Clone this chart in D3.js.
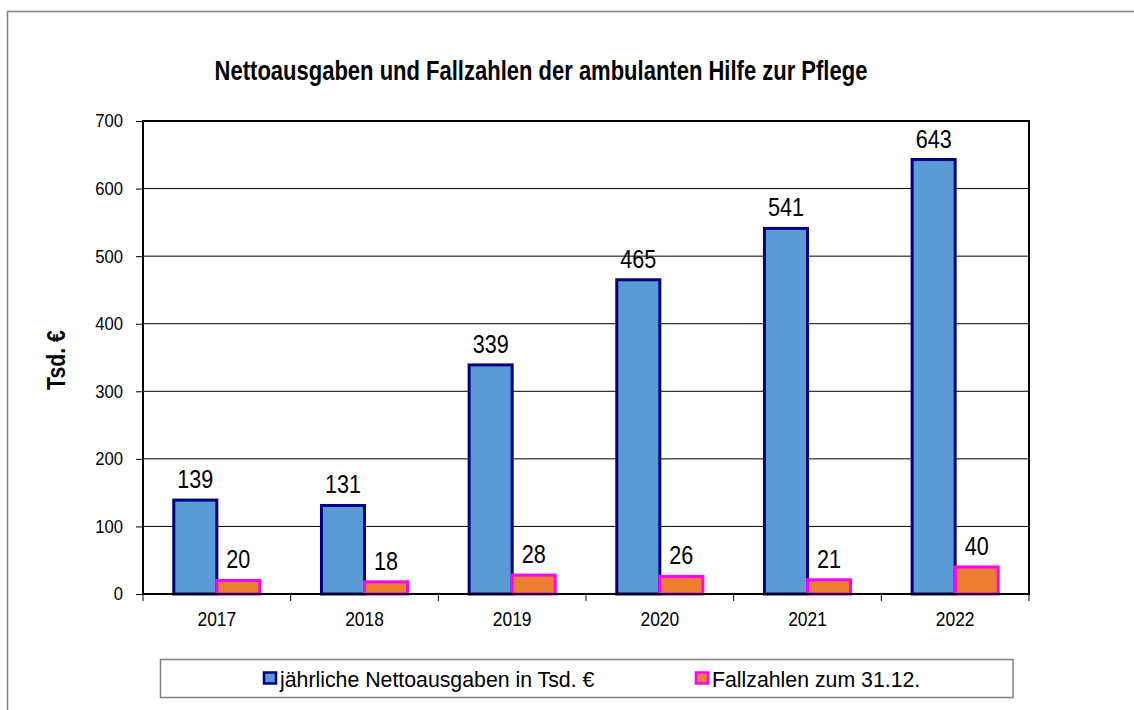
<!DOCTYPE html>
<html>
<head>
<meta charset="utf-8">
<script src="https://cdn.jsdelivr.net/npm/d3@7"></script>
<style>
    body { margin: 0; background: #fff; }
    svg { display: block; }
    text { font-family: "Liberation Sans", Arial, sans-serif; fill: #000; }
</style>
</head>
<body>
<div id="chart"></div>
<script>
// data
const years = ["2017", "2018", "2019", "2020", "2021", "2022"];
const ausgaben = [139, 131, 339, 465, 541, 643];
const fallzahlen = [20, 18, 28, 26, 21, 40];
const seriesNames = ["jährliche Nettoausgaben in Tsd. €", "Fallzahlen zum 31.12."];
const yTicks = [0, 100, 200, 300, 400, 500, 600, 700];

const width = 1134;
const height = 710;
const margin = { top: 121, right: 105, bottom: 116, left: 143 };
const innerWidth = width - margin.left - margin.right;
const innerHeight = height - margin.top - margin.bottom;

const fills = ["#5b9bd5", "#ed7d31"];
const strokes = ["#000080", "#ff00ff"];

// squeeze text horizontally to mimic a narrow font
function narrow(sel, factor) {
    sel.each(function () {
        const w = this.getComputedTextLength();
        d3.select(this)
            .attr("textLength", w * factor)
            .attr("lengthAdjust", "spacingAndGlyphs");
    });
}

const svg = d3.select("#chart").append("svg")
    .attr("width", width)
    .attr("height", height);

// outer frame (only left and top visible)
svg.append("rect")
    .attr("x", 7.5).attr("y", 11.5)
    .attr("width", width + 20).attr("height", height + 20)
    .attr("fill", "none")
    .attr("stroke", "#808080")
    .attr("stroke-width", 1.5);

// title
svg.append("text")
    .attr("x", 541)
    .attr("y", 80)
    .attr("text-anchor", "middle")
    .style("font-size", "27.5px")
    .style("font-weight", "bold")
    .text("Nettoausgaben und Fallzahlen der ambulanten Hilfe zur Pflege")
    .call(narrow, 0.8);

const g = svg.append("g")
    .attr("transform", `translate(${margin.left}, ${margin.top})`);

const x0 = d3.scaleBand()
    .domain(years)
    .range([0, innerWidth]);

const groupW = x0.bandwidth() * 0.583;
const x1 = d3.scaleBand()
    .domain([0, 1])
    .range([(x0.bandwidth() - groupW) / 2, (x0.bandwidth() + groupW) / 2]);

const y = d3.scaleLinear()
    .domain([0, 700])
    .range([innerHeight, 0]);

// gridlines
g.selectAll("line.grid")
    .data(yTicks.slice(1))
    .join("line")
    .attr("class", "grid")
    .attr("x1", 0).attr("x2", innerWidth)
    .attr("y1", d => y(d)).attr("y2", d => y(d))
    .attr("stroke", "#000")
    .attr("stroke-width", 1);

// y axis
const yAxis = g.append("g")
    .call(d3.axisLeft(y).tickValues(yTicks).tickSize(7).tickPadding(13));
yAxis.select(".domain").remove();
yAxis.selectAll("line").attr("stroke", "#000");
yAxis.selectAll("text")
    .attr("fill", "#000")
    .style("font-size", "18.5px")
    .style("font-family", "\"Liberation Sans\", Arial, sans-serif")
    .call(narrow, 0.9);

// x axis ticks at category boundaries
g.selectAll("line.xtick")
    .data(d3.range(years.length + 1))
    .join("line")
    .attr("class", "xtick")
    .attr("x1", d => d * x0.step()).attr("x2", d => d * x0.step())
    .attr("y1", innerHeight).attr("y2", innerHeight + 7)
    .attr("stroke", "#000");

g.selectAll("text.xlabel")
    .data(years)
    .join("text")
    .attr("class", "xlabel")
    .attr("x", d => x0(d) + x0.bandwidth() / 2)
    .attr("y", innerHeight + 32)
    .attr("text-anchor", "middle")
    .style("font-size", "20px")
    .text(d => d)
    .call(narrow, 0.87);

// bars
const rows = years.map((yr, i) => ({ year: yr, values: [ausgaben[i], fallzahlen[i]] }));

const groups = g.selectAll("g.group")
    .data(rows)
    .join("g")
    .attr("class", "group")
    .attr("transform", d => `translate(${x0(d.year)}, 0)`);

groups.selectAll("rect")
    .data(d => d.values.map((v, s) => ({ s, v })))
    .join("rect")
    .attr("x", d => x1(d.s))
    .attr("y", d => y(d.v))
    .attr("width", x1.bandwidth())
    .attr("height", d => innerHeight - y(d.v))
    .attr("fill", d => fills[d.s])
    .attr("stroke", d => strokes[d.s])
    .attr("stroke-width", 3);

groups.selectAll("text.value")
    .data(d => d.values.map((v, s) => ({ s, v })))
    .join("text")
    .attr("class", "value")
    .attr("x", d => x1(d.s) + x1.bandwidth() / 2)
    .attr("y", d => y(d.v) - 12)
    .attr("text-anchor", "middle")
    .style("font-size", "26px")
    .text(d => d.v)
    .call(narrow, 0.83);

// plot frame
g.append("rect")
    .attr("x", 0).attr("y", 0)
    .attr("width", innerWidth).attr("height", innerHeight)
    .attr("fill", "none")
    .attr("stroke", "#000")
    .attr("stroke-width", 2);

// y axis title
svg.append("text")
    .attr("transform", "translate(65, 360) rotate(-90)")
    .attr("text-anchor", "middle")
    .style("font-size", "25px")
    .style("font-weight", "bold")
    .text("Tsd. €")
    .call(narrow, 0.85);

// legend
const legend = svg.append("g");
legend.append("rect")
    .attr("x", 160.5).attr("y", 659.5)
    .attr("width", 852.5).attr("height", 38)
    .attr("fill", "#fff")
    .attr("stroke", "#808080")
    .attr("stroke-width", 1.5);

const legendX = [263, 695];
seriesNames.forEach((name, i) => {
    legend.append("rect")
        .attr("x", legendX[i] + 1).attr("y", 672.5)
        .attr("width", 12).attr("height", 11)
        .attr("fill", fills[i])
        .attr("stroke", strokes[i])
        .attr("stroke-width", 2.5);
    legend.append("text")
        .attr("x", legendX[i] + 17)
        .attr("y", 687)
        .style("font-size", "21.5px")
        .text(name)
        .call(narrow, 0.99);
});
</script>
</body>
</html>
